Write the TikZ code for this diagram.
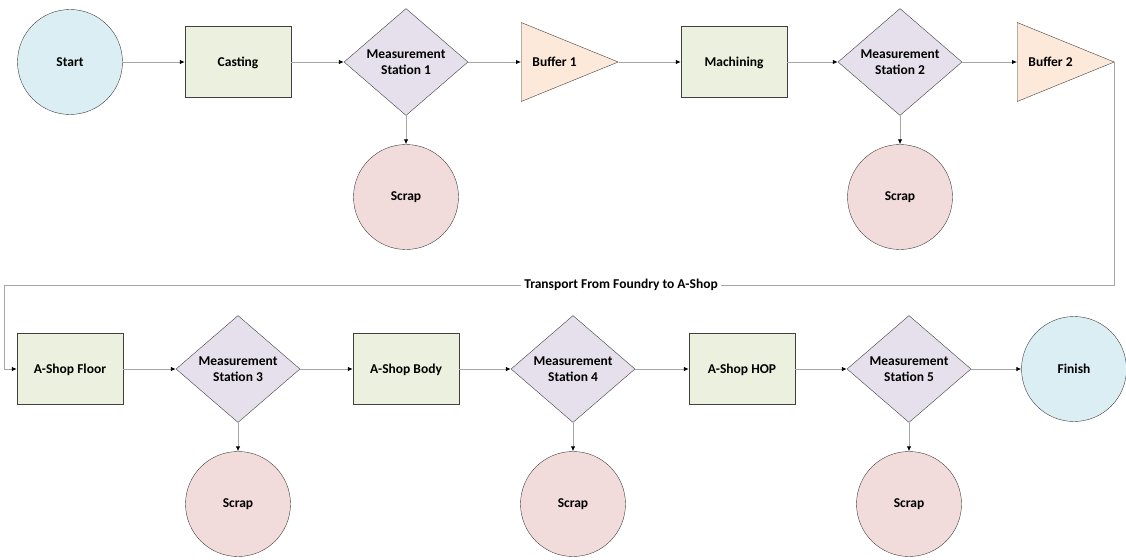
\documentclass[tikz,border=0pt]{standalone}
\usepackage{fontspec}
\setmainfont{Carlito}
\usetikzlibrary{shapes.geometric,arrows.meta,positioning}
\definecolor{edge}{HTML}{404040}
\definecolor{wire}{HTML}{A6A6A6}
\definecolor{endsfill}{HTML}{DAEEF3}
\definecolor{stagefill}{HTML}{EBF1DE}
\definecolor{checkfill}{HTML}{E5E0EC}
\definecolor{bufferfill}{HTML}{FDE9D9}
\definecolor{scrapfill}{HTML}{F2DCDB}

\begin{document}
\begin{tikzpicture}[
    x=1pt, y=-1pt,
    every node/.style={
        font=\fontsize{13.5}{16.5}\selectfont\bfseries,
        align=center,
        inner sep=0pt
    },
    terminal/.style={circle, draw=edge, fill=endsfill, minimum size=105pt},
    stage/.style={rectangle, draw=edge, fill=stagefill,
        text height=9pt, text depth=0pt,
        minimum width=106pt, minimum height=71pt},
    check/.style={diamond, draw=edge, fill=checkfill, aspect=1.16,
        minimum width=124pt, minimum height=107pt},
    buffer/.style={isosceles triangle, draw=edge, fill=bufferfill,
        isosceles triangle stretches, shape border rotate=0,
        minimum width=79pt, minimum height=97pt},
    scrap/.style={circle, draw=edge, fill=scrapfill, minimum size=105pt},
    link/.style={draw=wire, line width=0.9pt,
        -{Latex[length=5pt,width=4.5pt,color=black]}}
]
\useasboundingbox (0,0) rectangle (1126,559);

% foundry line
\node[terminal] (start) at (70,62) {Start};
\node[stage] (casting) at (238,62) {Casting};
\node[check] (ms1) at (406,62) {Measurement\\Station 1};
\node[buffer, anchor=lower side] (buf1) at (521,62) {Buffer 1};
\node[stage] (machining) at (734,62) {Machining};
\node[check] (ms2) at (900,62) {Measurement\\Station 2};
\node[buffer, anchor=lower side] (buf2) at (1017,62) {Buffer 2};
\node[scrap] (scrap1) at (406,197) {Scrap};
\node[scrap] (scrap2) at (900,197) {Scrap};

% A-shop line
\node[stage] (floor) at (70,369) {A-Shop Floor};
\node[check] (ms3) at (238,369) {Measurement\\Station 3};
\node[stage] (body) at (406,369) {A-Shop Body};
\node[check] (ms4) at (573,369) {Measurement\\Station 4};
\node[stage] (hop) at (742,369) {A-Shop HOP};
\node[check] (ms5) at (909,369) {Measurement\\Station 5};
\node[terminal] (finish) at (1074,369) {Finish};
\node[scrap] (scrap3) at (238,504) {Scrap};
\node[scrap] (scrap4) at (573,504) {Scrap};
\node[scrap] (scrap5) at (909,504) {Scrap};

\draw[link] (start) -- (casting);
\draw[link] (casting) -- (ms1);
\draw[link] (ms1) -- (buf1.lower side);
\draw[link] (buf1.apex) -- (machining);
\draw[link] (machining) -- (ms2);
\draw[link] (ms2) -- (buf2.lower side);
\draw[link] (ms1) -- (scrap1);
\draw[link] (ms2) -- (scrap2);

\coordinate (turn) at (4,285);
\draw[link] (buf2.apex) |- (turn) |- (floor.west);
\node[fill=white, inner xsep=3pt, inner ysep=1pt] (transport) at (621,285)
    {Transport From Foundry to A-Shop};

\draw[link] (floor) -- (ms3);
\draw[link] (ms3) -- (body);
\draw[link] (body) -- (ms4);
\draw[link] (ms4) -- (hop);
\draw[link] (hop) -- (ms5);
\draw[link] (ms5) -- (finish);
\draw[link] (ms3) -- (scrap3);
\draw[link] (ms4) -- (scrap4);
\draw[link] (ms5) -- (scrap5);
\end{tikzpicture}
\end{document}
